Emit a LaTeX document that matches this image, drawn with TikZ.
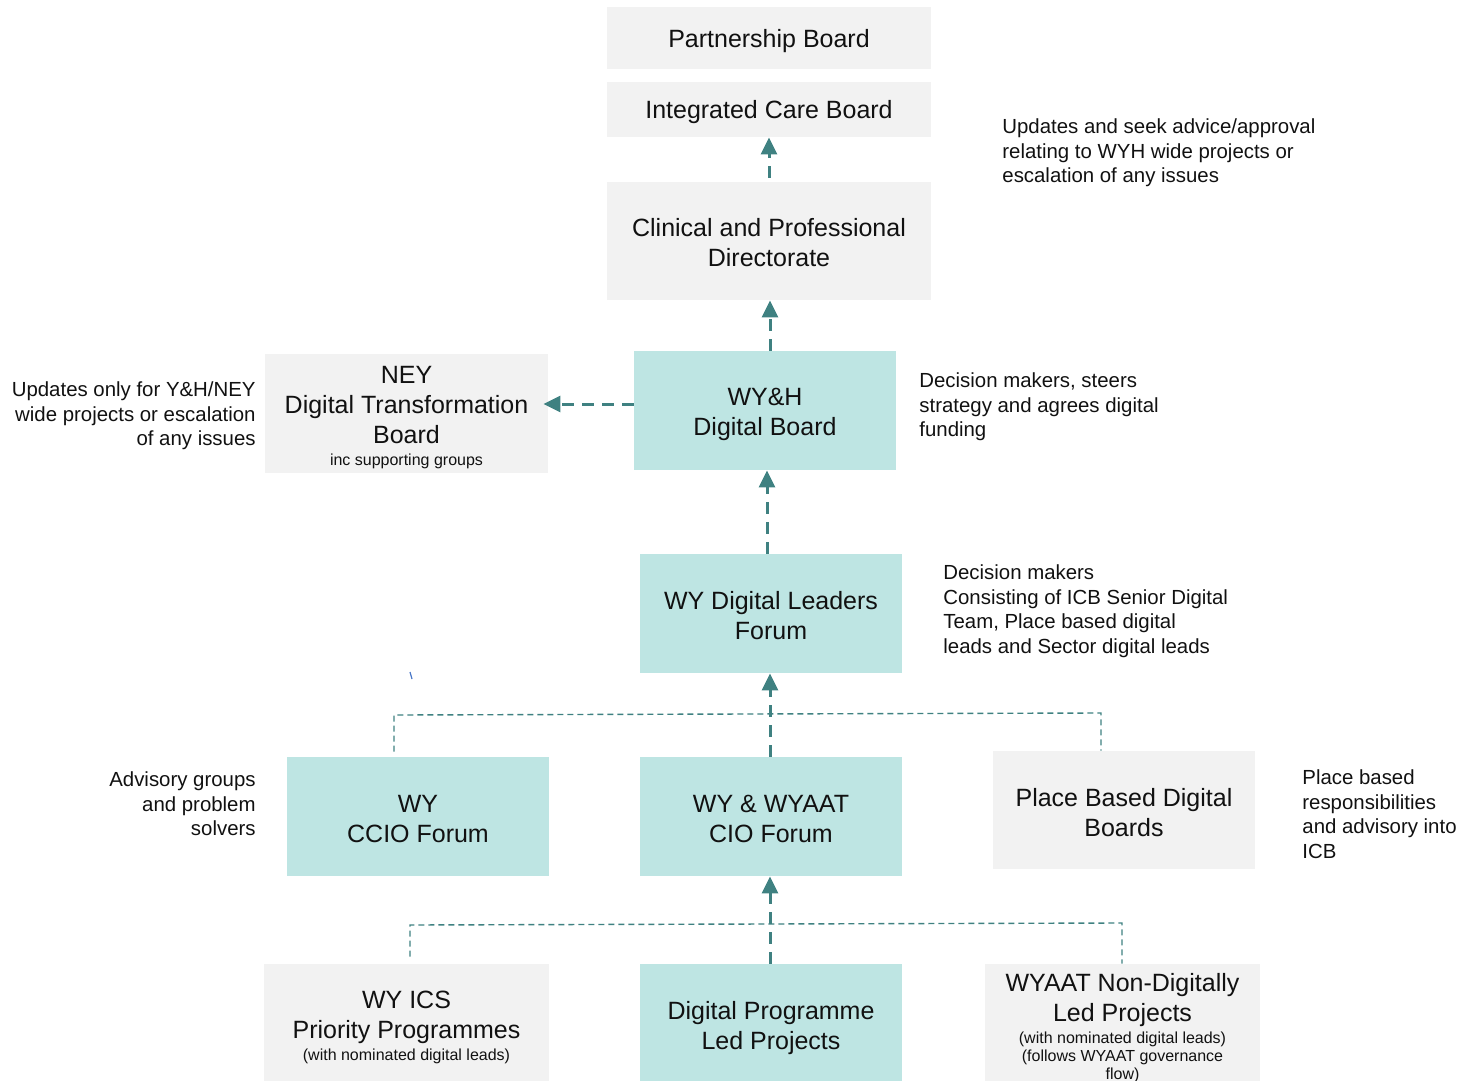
\documentclass[tikz,border=0pt]{standalone}
\usepackage{fontspec}
\setmainfont{Liberation Sans}
\usetikzlibrary{arrows.meta,calc}
\definecolor{gboxc}{HTML}{F2F2F2}
\definecolor{tboxc}{HTML}{BEE5E3}
\definecolor{arrc}{HTML}{3F8181}
\definecolor{txtc}{HTML}{111111}
\definecolor{strayc}{HTML}{4A78C8}
\newcommand{\smalltxt}{\fontsize{8}{9}\selectfont}
\begin{document}
\begin{tikzpicture}[x=0.5pt,y=-0.5pt,
 box/.style={inner sep=0pt, align=center, text=txtc, font=\fontsize{12.5}{15}\selectfont},
 gbox/.style={box, fill=gboxc},
 tbox/.style={box, fill=tboxc},
 note/.style={inner sep=0pt, text=txtc, font=\fontsize{10.2}{12.25}\selectfont},
 arr/.style={draw=arrc, line width=1.5pt, dash pattern=on 6pt off 4pt, -{Triangle[length=8.5pt,width=8pt]}},
 thinl/.style={draw=arrc, line width=0.7pt, dash pattern=on 3pt off 2pt}]
\useasboundingbox (0,0) rectangle (1468,1081);

% boxes (height = text height + text depth)
\node[gbox, minimum width=162pt, text height=20.5pt, text depth=10.5pt] (pb) at (769,38) {Partnership Board};
\node[gbox, minimum width=162pt, text height=18.5pt, text depth=9pt] (icb) at (769,109.5) {Integrated Care Board};
\node[gbox, minimum width=162pt, text height=42pt, text depth=17pt] (cpd) at (769,241) {Clinical and Professional\\Directorate};
\node[gbox, minimum width=141.5pt, text height=55.5pt, text depth=4pt] (ney) at (406.5,413.5) {NEY\\Digital Transformation\\Board\\[-4pt]{\smalltxt inc supporting groups}};
\node[tbox, minimum width=131pt, text height=42pt, text depth=17.5pt] (wyh) at (765,410.5) {WY\&H\\Digital Board};
\node[tbox, minimum width=131pt, text height=42.5pt, text depth=17pt] (dlf) at (771,613.5) {WY Digital Leaders\\Forum};
\node[tbox, minimum width=131pt, text height=42.5pt, text depth=17pt] (ccio) at (418,816.5) {WY\\CCIO Forum};
\node[tbox, minimum width=131pt, text height=42.5pt, text depth=17pt] (cio) at (771,816.5) {WY \& WYAAT\\CIO Forum};
\node[gbox, minimum width=131pt, text height=42.5pt, text depth=16.5pt] (pbd) at (1124,810) {Place Based Digital\\Boards};
\node[gbox, minimum width=142.5pt, text height=48pt, text depth=10.5pt] (ics) at (406.5,1022.5) {WY ICS\\Priority Programmes\\[-4pt]{\smalltxt (with nominated digital leads)}};
\node[tbox, minimum width=131pt, text height=42.5pt, text depth=16pt] (dpl) at (771,1022.5) {Digital Programme\\Led Projects};
\node[gbox, minimum width=137.5pt, text height=57.5pt, text depth=1pt] (wya) at (1122.5,1022.5) {WYAAT Non-Digitally\\Led Projects\\[-4pt]{\smalltxt (with nominated digital leads)}\\[-6pt]{\smalltxt (follows WYAAT governance}\\[-6pt]{\smalltxt flow)}};

% notes
\node[note, anchor=north west, align=left] (n1) at (1002,118.5) {Updates and seek advice/approval\\relating to WYH wide projects or\\escalation of any issues};
\node[note, anchor=north east, align=right] (n2) at (256,381.5) {Updates only for Y\&H/NEY\\wide projects or escalation\\of any issues};
\node[note, anchor=north west, align=left] (n3) at (919,372.5) {Decision makers, steers\\strategy and agrees digital\\funding};
\node[note, anchor=north west, align=left] (n4) at (943,564.5) {Decision makers\\Consisting of ICB Senior Digital\\Team, Place based digital\\leads and Sector digital leads};
\node[note, anchor=north east, align=right] (n5) at (256,771.5) {Advisory groups\\and problem\\solvers};
\node[note, anchor=north west, align=left] (n6) at (1302,769.5) {Place based\\responsibilities\\and advisory into\\ICB};

% arrows
\draw[arr] ($(cpd.north)+(0,-4)$) -- (icb.south);
\draw[arr] (770,0 |- wyh.north) -- (770,0 |- cpd.south);
\draw[arr] (wyh.west |- 0,404) -- ($(ney.east |- 0,404)+(-5,0)$);
\draw[arr] (767,0 |- dlf.north) -- (767,0 |- wyh.south);
\draw[arr] (770,0 |- cio.north) -- (770,0 |- dlf.south);
\draw[arr] (770,0 |- dpl.north) -- (770,0 |- cio.south);

% thin dashed brackets
\coordinate (b1) at (394,715);
\coordinate (b2) at (1101,713);
\draw[thinl] (ccio.north -| b1) ++(0,-5) -- (b1) -- (b2) -- (pbd.north -| b2);
\coordinate (c1) at (410,925);
\coordinate (c2) at (1122,923);
\draw[thinl] (ics.north -| c1) ++(0,-7) -- (c1) -- (c2) -- (wya.north -| c2);

% stray mark
\draw[strayc, line width=0.6pt] (410,672) -- (412,679);
\end{tikzpicture}
\end{document}
